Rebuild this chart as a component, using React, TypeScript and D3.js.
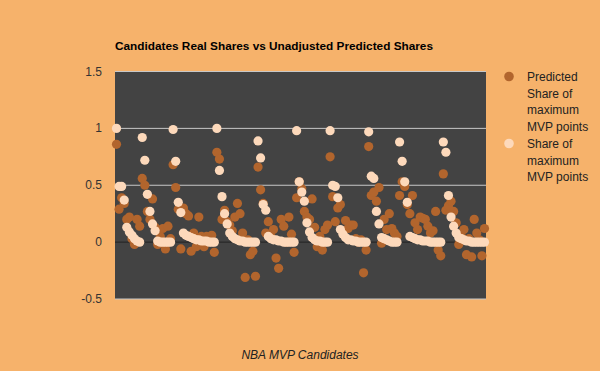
import React from "react";
import * as d3 from "d3";

// Real share of maximum MVP points, per season (sorted candidates)
const realShares: number[] = [
  // season 1
  1.0, 0.49, 0.49, 0.37, 0.13, 0.09, 0.06, 0.03, 0.01, 0.0,
  // season 2
  0.92, 0.72, 0.42, 0.27, 0.16, 0.1, 0.01, 0, 0, 0, 0, 0,
  // season 3
  0.99, 0.71, 0.35, 0.26, 0.08, 0.06, 0.05, 0.04, 0.03, 0.02, 0.02, 0.01, 0.01, 0.01, 0, 0, 0,
  // season 4
  1.0, 0.63, 0.4, 0.25, 0.16, 0.08, 0.05, 0.03, 0.02, 0.01, 0.01, 0, 0, 0, 0, 0,
  // season 5
  0.89, 0.74, 0.33, 0.28, 0.05, 0.03, 0.02, 0.02, 0.01, 0.01, 0, 0, 0, 0, 0,
  // season 6
  0.98, 0.53, 0.44, 0.36, 0.17, 0.09, 0.04, 0.02, 0.01, 0.01, 0, 0, 0,
  // season 7
  0.98, 0.5, 0.49, 0.39, 0.11, 0.07, 0.04, 0.02, 0.02, 0.01, 0.01, 0, 0, 0, 0,
  // season 8
  0.97, 0.58, 0.56, 0.27, 0.16, 0.04, 0.03, 0.02, 0.01, 0, 0, 0,
  // season 9
  0.88, 0.71, 0.53, 0.35, 0.05, 0.04, 0.03, 0.02, 0.02, 0.01, 0.01, 0.01, 0, 0, 0, 0, 0,
  // season 10
  0.88, 0.79, 0.41, 0.22, 0.14, 0.08, 0.04, 0.03, 0.02, 0.01, 0.01, 0, 0, 0, 0, 0, 0,
];

// Predicted share of maximum MVP points (unadjusted)
const predictedShares: number[] = [
  0.86, 0.29, 0.39, 0.34, 0.2, 0.22, 0.03, -0.02, 0.2, 0.14,
  0.56, 0.5, 0.27, 0.2, 0.38, 0.13, -0.02, 0.05, 0.12, -0.06, 0.14, 0.03,
  0.68, 0.48, 0.29, -0.06, 0.3, 0.25, 0.23, -0.08, 0.08, -0.04, 0.22, 0.05, -0.04, 0.05, 0.03, 0.06, -0.09,
  0.79, 0.73, 0.2, 0.28, 0.18, 0.15, 0.1, 0.22, 0.34, 0.25, 0.08, -0.31, 0.02, -0.11, -0.08, -0.3,
  0.66, 0.46, 0.34, 0.08, 0.18, 0.05, 0.11, -0.14, -0.23, 0.2, 0.14, 0.0, 0.22, 0.07, -0.09,
  0.39, 0.53, 0.47, 0.27, 0.22, 0.2, 0.38, 0.13, -0.04, 0.05, -0.07, 0.11, 0.15,
  0.75, 0.4, 0.18, 0.3, 0.33, 0.1, 0.19, 0.12, 0.15, 0.15, 0.03, 0.0, 0.02, -0.27, -0.07,
  0.84, 0.41, 0.44, 0.36, 0.48, -0.01, 0.2, 0.11, 0.25, 0.12, 0.08, 0.05,
  0.41, 0.53, 0.49, 0.33, 0.25, 0.41, 0.17, 0.11, 0.22, 0.21, 0.2, 0.14, 0.08, 0.1, 0.27, -0.07, -0.12,
  0.6, 0.28, 0.32, 0.36, 0.27, 0.17, -0.02, 0.05, 0.11, -0.11, 0.03, -0.13, 0.2, 0.08, 0.02, -0.12, 0.12,
];

const yTicks: number[] = [1.5, 1, 0.5, 0, -0.5];
const yTickLabels: string[] = ["1.5", "1", "0.5", "0", "-0.5"];
const seriesNames: string[][] = [
  ["Predicted", "Share of", "maximum", "MVP points"],
  ["Share of", "maximum", "MVP points"],
];

const W = 600;
const H = 371;
const plot = { left: 115, right: 486, top: 71.5, bottom: 299 };
const BG = "#F6B26B";
const PLOT_BG = "#434343";
const DARK = "#B2652D";
const LIGHT = "#FDD9BB";
const FONT = "Liberation Sans, Arial, sans-serif";

export default function App() {
  const n = realShares.length;
  const x = d3.scaleLinear().domain([0, n - 1]).range([116.5, 484.5]);
  const y = d3.scaleLinear().domain([-0.5, 1.5]).range([plot.bottom, plot.top]);
  const r = 4.6;

  return (
    <svg
      width={W}
      height={H}
      style={{ position: "absolute", left: 0, top: 0, display: "block" }}
      fontFamily={FONT}
    >
      <rect x={0} y={0} width={W} height={H} fill={BG} />
      <text x={115} y={50} fontSize={11.8} fontWeight="bold" fill="#000">
        Candidates Real Shares vs Unadjusted Predicted Shares
      </text>
      <rect
        x={plot.left}
        y={plot.top}
        width={plot.right - plot.left}
        height={plot.bottom - plot.top}
        fill={PLOT_BG}
      />
      {yTicks.map((t, i) => (
        <g key={"g" + i}>
          <line
            x1={plot.left}
            x2={plot.right}
            y1={y(t)}
            y2={y(t)}
            stroke={t === 0 ? "#222222" : "#C8C8C8"}
            strokeWidth={1}
          />
          <text
            x={102}
            y={y(t) + 4}
            fontSize={12}
            textAnchor="end"
            fill="#333333"
          >
            {yTickLabels[i]}
          </text>
        </g>
      ))}
      <g>
        {predictedShares.map((v, i) => (
          <circle key={"p" + i} cx={x(i)} cy={y(v)} r={r} fill={DARK} />
        ))}
      </g>
      <g>
        {realShares.map((v, i) => (
          <circle key={"a" + i} cx={x(i)} cy={y(v)} r={r} fill={LIGHT} />
        ))}
      </g>
      {/* legend */}
      <circle cx={509} cy={76.5} r={4.8} fill={DARK} />
      {seriesNames[0].map((s, i) => (
        <text key={"l0" + i} x={527} y={81 + i * 16.5} fontSize={12} fill="#222222">
          {s}
        </text>
      ))}
      <circle cx={509} cy={143.5} r={4.8} fill={LIGHT} />
      {seriesNames[1].map((s, i) => (
        <text key={"l1" + i} x={527} y={148 + i * 16.5} fontSize={12} fill="#222222">
          {s}
        </text>
      ))}
      <text
        x={300}
        y={359}
        fontSize={12}
        fontStyle="italic"
        textAnchor="middle"
        fill="#222222"
      >
        NBA MVP Candidates
      </text>
    </svg>
  );
}
